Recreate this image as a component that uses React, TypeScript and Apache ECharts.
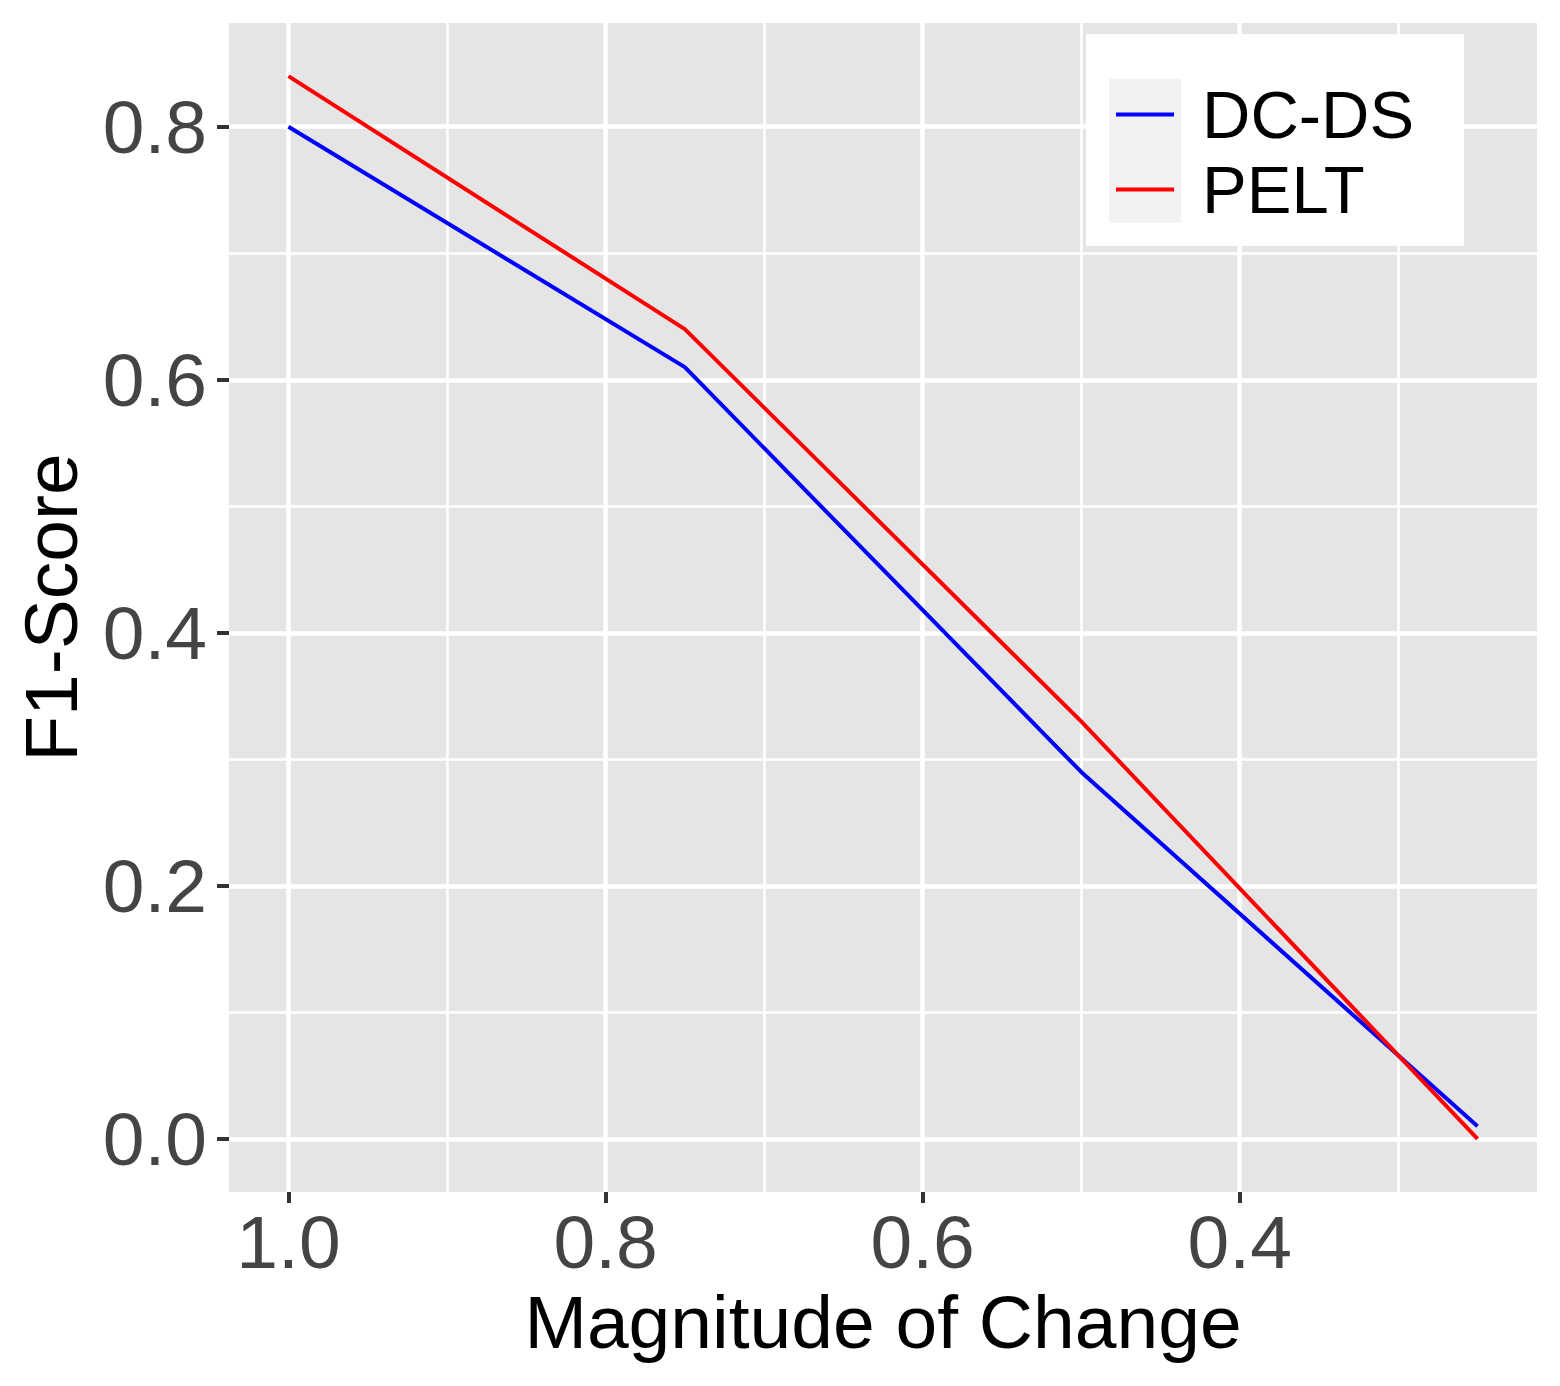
import React, { useEffect, useRef } from "react";
import * as echarts from "echarts";

const magnitudes = [1.0, 0.75, 0.5, 0.25];
const dcdsScores = [0.8, 0.61, 0.29, 0.01];
const peltScores = [0.84, 0.64, 0.33, 0.0];
const seriesNames = ["DC-DS", "PELT"];
const xMajorTicks = [0.4, 0.6, 0.8, 1.0];
const xMinorTicks = [0.3, 0.5, 0.7, 0.9];
const yMajorTicks = [0.0, 0.2, 0.4, 0.6, 0.8];
const yMinorTicks = [0.1, 0.3, 0.5, 0.7];

const FONT = "'Liberation Sans', Arial, Helvetica, sans-serif";

export default function App() {
  const ref = useRef<HTMLDivElement>(null);
  useEffect(() => {
    if (!ref.current) return;
    const chart = echarts.init(ref.current, null, { renderer: "svg" });
    const xMin = 0.2125;
    const xMax = 1.0375;
    const yMin = -0.042;
    const yMax = 0.882;
    const tickLine = { show: true, length: 11, lineStyle: { color: "#333333", width: 4 } };
    const hiddenAxisParts = {
      axisLine: { show: false, onZero: false },
      axisLabel: { show: false },
    };
    const option: any = {
      animation: false,
      backgroundColor: "#ffffff",
      grid: {
        left: 229,
        right: 23,
        top: 23,
        bottom: 194,
        show: true,
        backgroundColor: "#E5E5E5",
        borderWidth: 0,
        containLabel: false,
      },
      xAxis: [
        {
          type: "value",
          inverse: true,
          min: xMin,
          max: xMax,
          position: "bottom",
          axisLine: { show: false, onZero: false },
          axisTick: { ...tickLine, customValues: xMajorTicks },
          axisLabel: {
            customValues: xMajorTicks,
            formatter: (v: number) => v.toFixed(1),
            color: "#444444",
            fontSize: 75,
            lineHeight: 75,
            fontFamily: FONT,
            margin: 12,
          },
          splitLine: { show: true, lineStyle: { color: "#ffffff", width: 4.5 } },
          name: "Magnitude of Change",
          nameLocation: "middle",
          nameGap: 92,
          nameTextStyle: { color: "#000000", fontSize: 75, lineHeight: 75, fontFamily: FONT },
        },
        {
          type: "value",
          inverse: true,
          min: xMin,
          max: xMax,
          position: "bottom",
          ...hiddenAxisParts,
          axisTick: { show: false, customValues: xMinorTicks },
          splitLine: { show: true, lineStyle: { color: "#ffffff", width: 2.5 } },
        },
      ],
      yAxis: [
        {
          type: "value",
          min: yMin,
          max: yMax,
          position: "left",
          axisLine: { show: false, onZero: false },
          axisTick: { ...tickLine, length: 12, customValues: yMajorTicks },
          axisLabel: {
            customValues: yMajorTicks,
            formatter: (v: number) => v.toFixed(1),
            color: "#444444",
            fontSize: 75,
            lineHeight: 75,
            fontFamily: FONT,
            margin: 22,
          },
          splitLine: { show: true, lineStyle: { color: "#ffffff", width: 4.5 } },
          name: "F1-Score",
          nameLocation: "middle",
          nameGap: 141,
          nameTextStyle: { color: "#000000", fontSize: 75, lineHeight: 75, fontFamily: FONT },
        },
        {
          type: "value",
          min: yMin,
          max: yMax,
          position: "left",
          ...hiddenAxisParts,
          axisTick: { show: false, customValues: yMinorTicks },
          splitLine: { show: true, lineStyle: { color: "#ffffff", width: 2.5 } },
        },
      ],
      legend: {
        orient: "vertical",
        left: 1116,
        top: 77,
        padding: 0,
        itemGap: 0,
        itemWidth: 58,
        itemHeight: 4,
        icon: "rect",
        data: seriesNames,
        textStyle: {
          color: "#000000",
          fontSize: 67,
          lineHeight: 75,
          fontFamily: FONT,
          padding: [0, 0, 0, 23],
        },
      },
      graphic: {
        elements: [
          {
            type: "rect",
            z: 3,
            shape: { x: 1086, y: 34, width: 378, height: 212 },
            style: { fill: "#ffffff" },
          },
          {
            type: "rect",
            z: 3,
            shape: { x: 1109, y: 79, width: 72, height: 144 },
            style: { fill: "#F2F2F2" },
          },
        ],
      },
      series: [
        {
          name: seriesNames[0],
          type: "line",
          xAxisIndex: 0,
          yAxisIndex: 0,
          data: magnitudes.map((m, i) => [m, dcdsScores[i]]),
          showSymbol: false,
          symbol: "none",
          color: "#0000FF",
          itemStyle: { color: "#0000FF" },
          lineStyle: { color: "#0000FF", width: 4 },
        },
        {
          name: seriesNames[1],
          type: "line",
          xAxisIndex: 0,
          yAxisIndex: 0,
          data: magnitudes.map((m, i) => [m, peltScores[i]]),
          showSymbol: false,
          symbol: "none",
          color: "#FF0000",
          itemStyle: { color: "#FF0000" },
          lineStyle: { color: "#FF0000", width: 4 },
        },
      ],
    };
    chart.setOption(option);
    return () => chart.dispose();
  }, []);
  return (
    <div
      ref={ref}
      style={{ position: "fixed", left: 0, top: 0, width: 1560, height: 1386, background: "#ffffff" }}
    />
  );
}
